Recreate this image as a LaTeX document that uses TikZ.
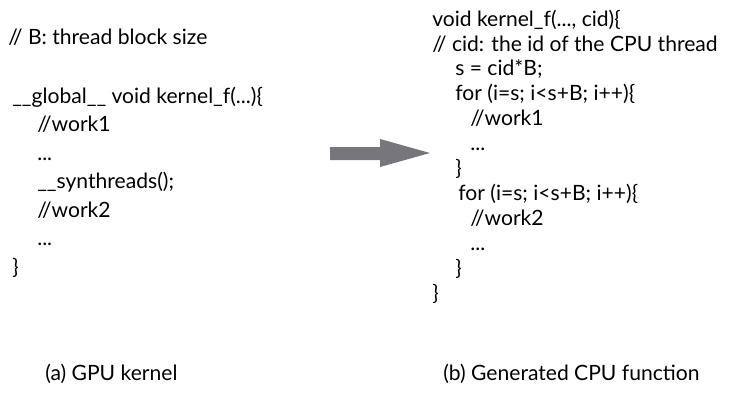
\documentclass[tikz,border=0pt]{standalone}
\usepackage{fontspec}
\setmainfont{Lato}
\begin{document}
\begin{tikzpicture}[x=0.025cm, y=-0.025cm,
	code/.style={inner sep=0pt, anchor=base west, align=left, font=\fontsize{15}{20.2}\selectfont},
	tightcode/.style={code, font=\fontsize{15}{17.7}\selectfont},
	caption/.style={inner sep=0pt, anchor=base west, font=\fontsize{15}{18}\selectfont}]
		\useasboundingbox (0,0) rectangle (753,407);
		% code blocks, placed at the baseline of their last line
		\node[code] (Comment) at (8,45) {// B: thread block size};
		\node[code] (Kernel) at (12,274) {\_\_global\_\_ void kernel\_f(...)\{\\
			\hspace*{0.625cm}//work1\\
			\hspace*{0.625cm}...\\
			\hspace*{0.625cm}\_\_synthreads();\\
			\hspace*{0.625cm}//work2\\
			\hspace*{0.625cm}...\\
			\}};
		\node[tightcode] (Function) at (432,300) {void kernel\_f(..., cid)\{\\
			// cid: the id of the CPU thread\\
			\hspace*{0.575cm}s = cid*B;\\
			\hspace*{0.575cm}for (i=s; i<s+B; i++)\{\\
			\hspace*{0.95cm}//work1\\
			\hspace*{0.95cm}...\\
			\hspace*{0.575cm}\}\\
			\hspace*{0.65cm}for (i=s; i<s+B; i++)\{\\
			\hspace*{0.95cm}//work2\\
			\hspace*{0.95cm}...\\
			\hspace*{0.575cm}\}\\
			\}};
		\node[caption] (CaptionA) at (45,380) {(a) GPU kernel};
		\node[caption] (CaptionB) at (443,380) {(b) Generated CPU function};
		% Arrow
		\fill[gray!95!blue!60!black!75] (330,147) -- (380,147) -- (380,139) -- (430,153) -- (380,167) -- (380,160) -- (330,160) -- cycle;
	\end{tikzpicture}
\end{document}
